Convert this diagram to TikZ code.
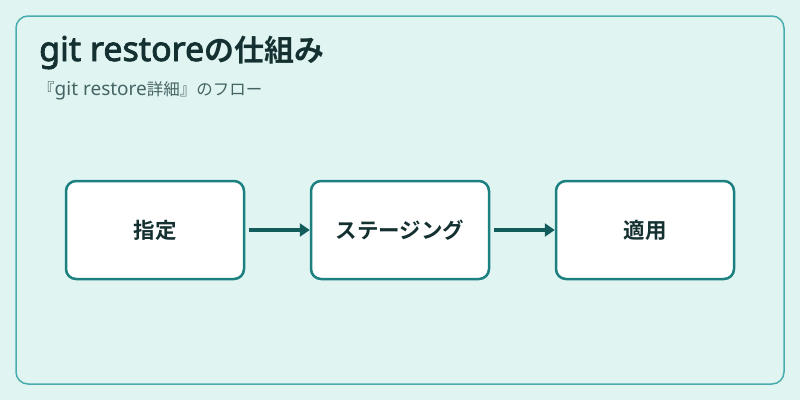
\documentclass[tikz,border=0pt]{standalone}
\usepackage{fontspec}
\setmainfont{Noto Sans CJK JP}
\newfontfamily\jpbold{Noto Sans CJK JP Bold}
\newfontfamily\latin{Noto Sans}
\newfontfamily\latinb{Noto Sans}[FakeBold=2.4]
\usetikzlibrary{arrows.meta}
\definecolor{bgc}{HTML}{E0F4F2}
\definecolor{framec}{HTML}{4AADAD}
\definecolor{boxc}{HTML}{1C8080}
\definecolor{arrc}{HTML}{125C5C}
\definecolor{titlec}{HTML}{143030}
\definecolor{subc}{HTML}{456464}

\begin{document}
\begin{tikzpicture}[x=1pt, y=-1pt,
  stepbox/.style={draw=boxc, fill=white, line width=2.5pt, rounded corners=10pt,
    minimum width=178pt, minimum height=98pt, font=\jpbold\fontsize{21.5}{24}\selectfont, text=titlec},
  flow/.style={-{Triangle[length=10pt, width=13pt]}, draw=arrc, fill=arrc, line width=3.2pt}]
  % fondo
  \fill[bgc] (0,0) rectangle (800,400);
  \useasboundingbox (0,0) rectangle (800,400);
  \draw[framec, line width=1.5pt, rounded corners=12pt, fill=bgc] (16,16) rectangle (784,384);
  % titulo
  \node[anchor=base west, inner sep=0pt, text=titlec, font=\jpbold\fontsize{30}{32}\selectfont]
    (title) at (39,61) {{\latinb\fontsize{34}{36}\selectfont git restore}の仕組み};
  \node[anchor=base west, inner sep=0pt, text=subc, font=\fontsize{16.5}{20}\selectfont]
    (sub) at (38,95) {『{\latin\fontsize{19}{20}\selectfont git restore}詳細』のフロー};
  % pasos
  \node[stepbox] (spec) at (155,230) {指定};
  \node[stepbox] (stage) at (400,230) {ステージング};
  \node[stepbox] (apply) at (645,230) {適用};
  % flechas
  \draw[flow] ([xshift=4pt]spec.east) -- (stage.west);
  \draw[flow] ([xshift=4pt]stage.east) -- (apply.west);
\end{tikzpicture}
\end{document}
